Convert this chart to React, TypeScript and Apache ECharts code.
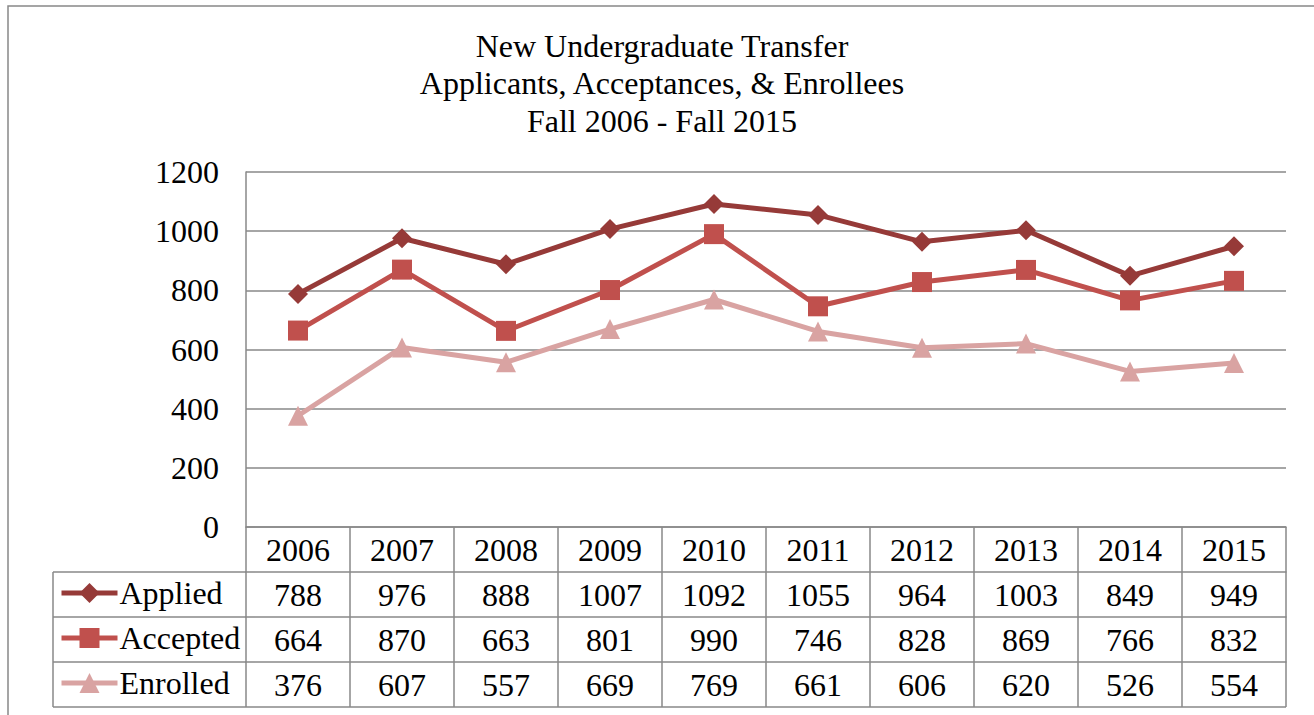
import React, { useEffect, useRef } from "react";
import * as echarts from "echarts";

const years = ["2006", "2007", "2008", "2009", "2010", "2011", "2012", "2013", "2014", "2015"];
const applied = [788, 976, 888, 1007, 1092, 1055, 964, 1003, 849, 949];
const accepted = [664, 870, 663, 801, 990, 746, 828, 869, 766, 832];
const enrolled = [376, 607, 557, 669, 769, 661, 606, 620, 526, 554];
const seriesNames = ["Applied", "Accepted", "Enrolled"];
const seriesColors = ["#963A38", "#C0504D", "#D9A3A2"];
const seriesSymbols = ["diamond", "rect", "triangle"];
const titleLines = ["New Undergraduate Transfer", "Applicants, Acceptances, & Enrollees", "Fall 2006 - Fall 2015"];
const yTicks = { min: 0, max: 1200, interval: 200 };

const FONT = '"Liberation Serif", "Times New Roman", serif';
const FS = 32;
const GRAY = "#888888";
const ROW = 45;

export default function App() {
  const ref = useRef<HTMLDivElement>(null);
  useEffect(() => {
    if (!ref.current) return;
    const chart = echarts.init(ref.current, undefined, { renderer: "svg" });
    const allValues = [applied, accepted, enrolled];

    const baseX = (data: string[], offset: number) => ({
      type: "category",
      data,
      position: "bottom",
      offset,
      boundaryGap: true,
      axisLine: { show: true, onZero: false, lineStyle: { color: GRAY, width: 1.5 } },
      axisTick: { show: true, length: ROW, inside: false, lineStyle: { color: GRAY, width: 1.5 } },
      axisLabel: { show: true, interval: 0, margin: 6.5, fontSize: FS, fontFamily: FONT, color: "#000" },
      splitLine: { show: false },
    });

    const tableLeft = 53;
    const plotLeft = 246;
    const plotRight = 1286;
    const plotBottom = 527;
    const lineStyle = { stroke: GRAY, lineWidth: 1.5 };

    const graphics: any[] = [
      {
        type: "rect",
        shape: { x: 8, y: 6, width: 1400, height: 800 },
        style: { fill: "none", stroke: GRAY, lineWidth: 1.5 },
        silent: true,
      },
      {
        type: "text",
        x: 662,
        y: 83,
        style: {
          text: titleLines.join("\n"),
          align: "center",
          verticalAlign: "middle",
          fontSize: FS,
          fontFamily: FONT,
          lineHeight: 37.5,
          fill: "#000",
        },
      },
    ];
    for (let i = 1; i <= 4; i++) {
      const y = plotBottom + ROW * i;
      graphics.push({
        type: "line",
        shape: { x1: tableLeft, y1: y, x2: i === 4 ? plotRight : plotLeft, y2: y },
        style: lineStyle,
        silent: true,
      });
    }
    graphics.push({
      type: "line",
      shape: { x1: tableLeft, y1: plotBottom + ROW, x2: tableLeft, y2: plotBottom + ROW * 4 },
      style: lineStyle,
      silent: true,
    });

    chart.setOption({
      animation: false,
      backgroundColor: "#fff",
      grid: { left: plotLeft, right: 1314 - plotRight, top: 172, bottom: 715 - plotBottom, outerBoundsMode: "none", containLabel: false },
      xAxis: [
        baseX(years, 0),
        ...allValues.map((vals, i) => baseX(vals.map(String), ROW * (i + 1))),
      ],
      yAxis: {
        type: "value",
        min: yTicks.min,
        max: yTicks.max,
        interval: yTicks.interval,
        axisLine: { show: true, lineStyle: { color: GRAY, width: 1.5 } },
        axisTick: { show: false },
        axisLabel: { margin: 27, fontSize: FS, fontFamily: FONT, color: "#000", formatter: (v: number) => String(v) },
        splitLine: { show: true, lineStyle: { color: GRAY, width: 1.5 } },
      },
      legend: seriesNames.map((n, i) => ({
        data: [n],
        left: 59,
        top: 577 + ROW * i,
        padding: 0,
        itemWidth: 56,
        itemHeight: 25,
        itemGap: 0,
        selectedMode: false,
        lineStyle: { width: 5 },
        textStyle: { fontSize: FS, fontFamily: FONT, color: "#000", padding: [0, 0, 0, -3] },
      })),
      series: allValues.map((vals, i) => ({
        name: seriesNames[i],
        type: "line",
        xAxisIndex: 0,
        data: vals,
        symbol: seriesSymbols[i],
        symbolSize: 20,
        showAllSymbol: true,
        color: seriesColors[i],
        lineStyle: { width: 5, color: seriesColors[i] },
        itemStyle: { color: seriesColors[i] },
        z: 3 + i,
      })),
      graphic: graphics,
    });
    return () => chart.dispose();
  }, []);
  return (
    <div
      ref={ref}
      style={{ position: "fixed", left: 0, top: 0, width: 1314, height: 715, background: "#fff" }}
    />
  );
}
